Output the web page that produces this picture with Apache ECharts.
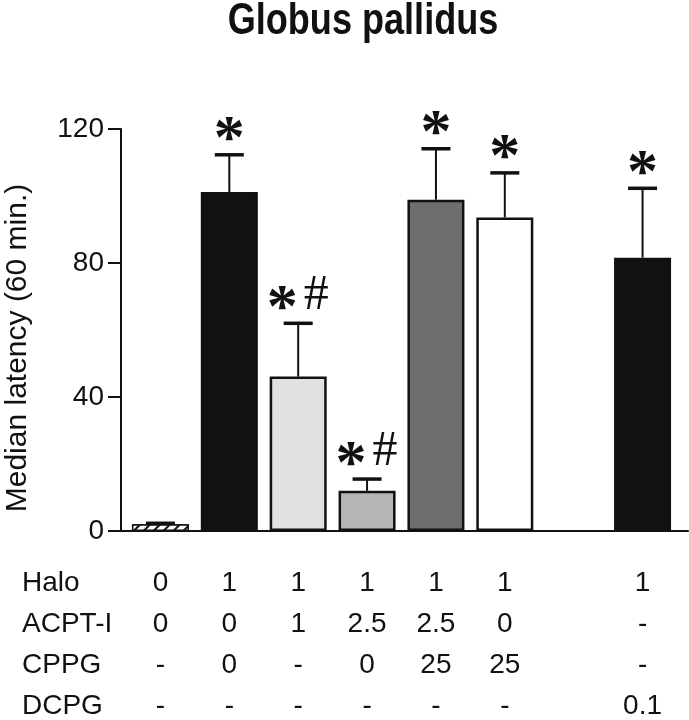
<!DOCTYPE html>
<html><head><meta charset="utf-8">
<script src="https://cdn.jsdelivr.net/npm/echarts@6/dist/echarts.min.js"></script>
<style>html,body{margin:0;padding:0;background:#fff}#c{width:689px;height:720px}</style>
</head><body><div id="c"></div>
<script>
// ---- data ----
const categories = ['g1', 'g2', 'g3', 'g4', 'g5', 'g6', 'gap', 'g7'];
const medians = [2.0, 101.2, 46.1, 12.0, 98.9, 93.6, null, 81.6];
const errors = [0.3, 11.1, 15.9, 3.5, 15.2, 13.3, null, 20.7];
const marks = ['', '*', '*#', '*#', '*', '*', '', '*'];
const rowNames = ['Halo', 'ACPT-I', 'CPPG', 'DCPG'];
const haloRow = ['0', '1', '1', '1', '1', '1', '', '1'];
const acptRow = ['0', '0', '1', '2.5', '2.5', '0', '', '-'];
const cppgRow = ['-', '0', '-', '0', '25', '25', '', '-'];
const dcpgRow = ['-', '-', '-', '-', '-', '-', '', '0.1'];
const yMin = 0, yMax = 120, yStep = 40;
const titleText = 'Globus pallidus';
const yName = 'Median latency (60 min.)';

// ---- styles ----
const barFills = ['#ffffff', '#111111', '#e0e0e0', '#b5b5b5', '#6e6e6e', '#ffffff', null, '#111111'];
const rows = [haloRow, acptRow, cppgRow, dcpgRow];
const rowOffsets = [52, 93, 134, 175];
const SANS = '"Liberation Sans", Arial, Helvetica, sans-serif';
const SERIF = '"Liberation Serif", "Times New Roman", serif';

const chart = echarts.init(document.getElementById('c'), null, {renderer: 'canvas'});

const hatch = {
  symbol: 'rect', symbolSize: 1, color: '#111', backgroundColor: '#fff',
  dashArrayX: [1, 0], dashArrayY: [2, 5], rotation: -Math.PI / 4
};

const xAxes = [{
  type: 'category', gridIndex: 0, data: categories,
  axisLine: {show: false}, axisTick: {show: false}, axisLabel: {show: false}
}];
rows.forEach((row, k) => {
  xAxes.push({
    type: 'category', gridIndex: 0, data: categories, position: 'bottom', offset: rowOffsets[k],
    axisLine: {show: false}, axisTick: {show: false},
    axisLabel: {
      interval: 0, margin: 0, verticalAlign: 'middle', fontSize: 28, color: '#111', fontFamily: SANS,
      formatter: (v, i) => row[i]
    },
    name: rowNames[k], nameLocation: 'start', nameGap: 104,
    nameTextStyle: {align: 'left', verticalAlign: 'middle', fontSize: 28, color: '#111', fontFamily: SANS}
  });
});
xAxes.push({
  type: 'value', gridIndex: 1, min: 0, max: 1,
  axisLine: {show: true, onZero: false, lineStyle: {color: '#111', width: 2}},
  axisTick: {show: false}, axisLabel: {show: false}, splitLine: {show: false}
});

const option = {
  backgroundColor: '#fff',
  animation: false,
  graphic: [{
    type: 'text', x: 363, y: 21.5, scaleX: 0.82, scaleY: 1,
    style: {text: titleText, align: 'center', verticalAlign: 'middle',
      font: 'bold 44px "Liberation Sans", Arial, sans-serif', fill: '#111'}
  }],
  grid: [
    {left: 126, right: 12, top: 129, bottom: 189, containLabel: false, outerBoundsMode: 'none'},
    {left: 121, right: 1, top: 129, bottom: 189, containLabel: false, outerBoundsMode: 'none'}
  ],
  xAxis: xAxes,
  yAxis: [{
    type: 'value', gridIndex: 0, min: yMin, max: yMax, interval: yStep, offset: 5,
    axisLine: {show: true, lineStyle: {color: '#111', width: 2}},
    axisTick: {show: true, inside: false, length: 13, lineStyle: {color: '#111', width: 2}},
    axisLabel: {fontSize: 28, color: '#111', margin: 17, fontFamily: SANS},
    splitLine: {show: false},
    name: yName, nameLocation: 'middle', nameGap: 88, nameRotate: 90,
    nameTextStyle: {fontSize: 30, color: '#111', fontFamily: SANS, padding: [0, 36, 0, 0]}
  }, {
    type: 'value', gridIndex: 1, min: 0, max: 1, show: false
  }],
  series: [{
    type: 'bar', xAxisIndex: 0, yAxisIndex: 0, barWidth: 57, z: 2,
    itemStyle: {borderColor: '#111', borderWidth: 2.5},
    data: medians.map((v, i) => v == null ? '-' : {
      value: v,
      itemStyle: Object.assign({color: barFills[i]}, i === 0 ? {decal: hatch, borderWidth: 1.5} : {})
    })
  }, {
    type: 'custom', xAxisIndex: 0, yAxisIndex: 0, z: 3,
    data: medians.map((v, i) => v == null ? null : [i, v, errors[i]]).filter(d => d),
    renderItem: function (params, api) {
      const i = api.value(0), m = api.value(1), e = api.value(2);
      const base = api.coord([i, m]);
      const top = api.coord([i, m + e]);
      const cx = base[0];
      const children = [
        {type: 'line', shape: {x1: cx, y1: base[1], x2: cx, y2: top[1]}, style: {stroke: '#111', lineWidth: 2}},
        {type: 'line', shape: {x1: cx - 14.5, y1: top[1], x2: cx + 14.5, y2: top[1]}, style: {stroke: '#111', lineWidth: 3.5}}
      ];
      const mk = marks[i] || '';
      const hasHash = mk.indexOf('#') >= 0;
      if (mk.indexOf('*') >= 0) {
        children.push({type: 'text', style: {
          text: '*', x: cx + (hasHash ? -16 : 0), y: top[1] - 13.5,
          align: 'center', verticalAlign: 'middle', font: 'bold 62px "Liberation Serif", serif', fill: '#111'
        }});
      }
      if (hasHash) {
        children.push({type: 'text', style: {
          text: '#', x: cx + 18, y: top[1] - 27.5,
          align: 'center', verticalAlign: 'middle', fontSize: 50, fontFamily: SERIF, fill: '#111'
        }});
      }
      return {type: 'group', children: children};
    }
  }]
};
chart.setOption(option);
</script>
</body></html>
